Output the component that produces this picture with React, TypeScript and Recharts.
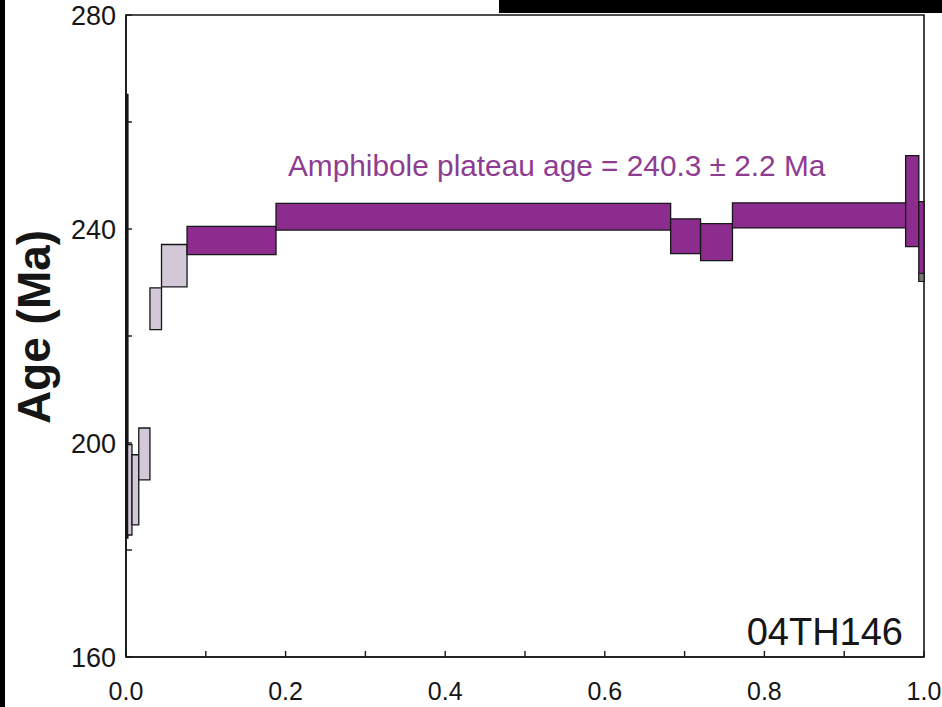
import React from 'react';
import { ComposedChart, XAxis, YAxis, ReferenceArea, Scatter } from 'recharts';

// 39Ar release steps: cumulative fraction (from / to) and 2σ age envelope (Ma)
const stepFrom = [0, 0.002, 0.0075, 0.016, 0.03, 0.0445, 0.0765, 0.188, 0.6825, 0.72, 0.76, 0.977, 0.9935];
const stepTo = [0.002, 0.0075, 0.016, 0.03, 0.0445, 0.0765, 0.188, 0.6825, 0.72, 0.76, 0.977, 0.9935, 1.0];
const ageLow = [182.3, 182.8, 184.7, 193.1, 221.2, 229.2, 235.2, 239.8, 235.4, 234.1, 240.2, 236.7, 230.2];
const ageHigh = [265.1, 199.7, 197.8, 202.8, 229.0, 237.1, 240.5, 244.8, 241.9, 241.0, 244.9, 253.7, 245.1];
const inPlateau = [false, false, false, false, false, false, true, true, true, true, true, true, true];

// small grey tail at the bottom of the last step
const tailFrom = [0.9935];
const tailTo = [1.0];
const tailLow = [230.2];
const tailHigh = [231.7];

const xTicks = [0, 0.1, 0.2, 0.3, 0.4, 0.5, 0.6, 0.7, 0.8, 0.9, 1.0];
const yTicks = [160, 180, 200, 220, 240, 260, 280];
const xDomain = [0, 1];
const yDomain = [160, 280];

const plateauLabel = 'Amphibole plateau age = 240.3 ± 2.2 Ma';
const sampleName = '04TH146';

const PURPLE = '#8b2c8e';
const LIGHT = '#d2c8d8';
const INK = '#161616';
const FONT = '"Liberation Sans", Arial, sans-serif';

const midPoints = stepFrom.map((f, i) => ({
  x: (f + stepTo[i]) / 2,
  y: (ageLow[i] + ageHigh[i]) / 2,
}));

const YTick = (props: any) => {
  const { x, y, payload } = props;
  const v = payload.value;
  return (
    <g>
      <line x1={x} y1={y} x2={x + 6} y2={y} stroke={INK} strokeWidth={1.4} />
      {v % 40 === 0 && (
        <text x={x - 10} y={y} dy={9.5} textAnchor="end" fontSize={27} fill={INK} fontFamily={FONT}>
          {v}
        </text>
      )}
    </g>
  );
};

const XTick = (props: any) => {
  const { x, y, payload } = props;
  const v = payload.value;
  const labelled = Math.round(v * 10) % 2 === 0;
  return (
    <g>
      <line x1={x} y1={y} x2={x} y2={y - 6} stroke={INK} strokeWidth={1.4} />
      {labelled && (
        <text x={x} y={y + 43} textAnchor="middle" fontSize={25} fill={INK} fontFamily={FONT}>
          {v.toFixed(1)}
        </text>
      )}
    </g>
  );
};

export default function App() {
  return (
    <div
      style={{
        position: 'absolute',
        left: 0,
        top: 0,
        width: 942,
        height: 707,
        background: '#fff',
        overflow: 'hidden',
      }}
    >
      <ComposedChart width={942} height={707} margin={{ top: 15, right: 18, left: 0, bottom: 0 }}>
        <XAxis
          type="number"
          dataKey="x"
          domain={xDomain}
          ticks={xTicks}
          interval={0}
          height={50}
          tickSize={0}
          tickMargin={0}
          tickLine={false}
          tick={<XTick />}
          axisLine={{ stroke: INK, strokeWidth: 1.6 }}
          allowDataOverflow
        />
        <YAxis
          type="number"
          dataKey="y"
          domain={yDomain}
          ticks={yTicks}
          interval={0}
          width={126}
          tickSize={0}
          tickMargin={0}
          tickLine={false}
          tick={<YTick />}
          axisLine={{ stroke: INK, strokeWidth: 1.6 }}
          allowDataOverflow
        />
        <Scatter data={midPoints} shape={() => <g />} isAnimationActive={false} />
        {/* plot frame */}
        <ReferenceArea
          x1={xDomain[0]}
          x2={xDomain[1]}
          y1={yDomain[0]}
          y2={yDomain[1]}
          fill="none"
          stroke={INK}
          strokeWidth={1.6}
          ifOverflow="visible"
        />
        {stepFrom.map((f, i) => (
          <ReferenceArea
            key={i}
            x1={f}
            x2={stepTo[i]}
            y1={ageLow[i]}
            y2={ageHigh[i]}
            fill={inPlateau[i] ? PURPLE : LIGHT}
            fillOpacity={1}
            stroke={INK}
            strokeWidth={i === 0 ? 2 : 1.3}
            ifOverflow="visible"
          />
        ))}
        {tailFrom.map((f, i) => (
          <ReferenceArea
            key={'t' + i}
            x1={f}
            x2={tailTo[i]}
            y1={tailLow[i]}
            y2={tailHigh[i]}
            fill="#777"
            fillOpacity={1}
            stroke={INK}
            strokeWidth={1}
            ifOverflow="visible"
          />
        ))}
      </ComposedChart>

      <svg
        width={942}
        height={707}
        style={{ position: 'absolute', left: 0, top: 0, pointerEvents: 'none' }}
      >
        <text
          x={50}
          y={327}
          transform="rotate(-90 50 327)"
          textAnchor="middle"
          fontSize={46}
          fontWeight="bold"
          fill={INK}
          fontFamily={FONT}
        >
          Age (Ma)
        </text>
        <text x={288} y={176} fontSize={29.8} fill="#8e3c92" fontFamily={FONT}>
          {plateauLabel}
        </text>
        <text x={903} y={645} textAnchor="end" fontSize={38} fill={INK} fontFamily={FONT}>
          {sampleName}
        </text>
      </svg>

      <div style={{ position: 'absolute', left: 0, top: 0, width: 5, height: 707, background: '#000' }} />
      <div style={{ position: 'absolute', left: 499, top: 0, width: 443, height: 13, background: '#000' }} />
    </div>
  );
}
